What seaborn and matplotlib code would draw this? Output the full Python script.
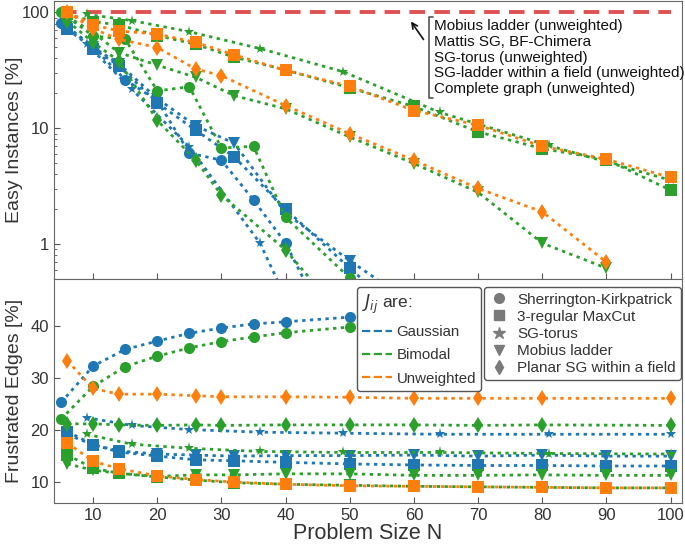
import pandas as pd
import matplotlib
matplotlib.use("Agg")
import matplotlib.pyplot as plt
from matplotlib.lines import Line2D
import seaborn as sns

# ---- data ----
weights = ['Gaussian', 'Bimodal', 'Unweighted']
models = ['Sherrington-Kirkpatrick', '3-regular MaxCut', 'SG-torus', 'Mobius ladder', 'Planar SG within a field']

N_sk = [5, 10, 15, 20, 25, 30, 35, 40, 50]
N_even = [6, 10, 14, 20, 26, 32, 40, 50, 60, 70, 80, 90, 100]
N_torus = [9, 16, 25, 36, 49, 64, 81, 100]
N_planar = [6, 10, 14, 20, 26, 30, 40, 50, 60, 70, 80, 90]
N_planar_fe = [6, 10, 14, 20, 26, 30, 40, 50, 60, 70, 80, 100]

# Easy instances [%]
easy_sk_gauss = [81.5, 50, 26.2, 17.3, 6.1, 5.3, 2.4, 1.02, 0.08]
easy_sk_bimod = [100, 62.6, 58.6, 21.0, 22.8, 6.75, 6.98, 1.7, 0.51]
easy_mc_gauss = [71.5, 48.7, 34.6, 16.5, 9.6, 5.65, 2.0, 0.62, 0.2]
easy_mc_bimod = [97, 83, 78, 63, 53, 41, 31.8, 22.3, 15.4, 9.3, 6.67, 5.37, 2.92]
easy_mc_unw = [100, 78, 69, 65, 55, 43, 31.5, 23.0, 14.2, 10.6, 7.0, 5.4, 3.76]
easy_torus_gauss = [53, 21.8, 6.9, 1.02, 0.03]
easy_torus_bimod = [96, 85, 68, 48.7, 30.7, 13.7, 7.1, 3.56]
easy_mob_gauss = [75, 50, 36, 18, 10.5, 7.4, 1.85, 0.72, 0.3]
easy_mob_bimod = [92, 67, 45, 35, 27.5, 19.1, 14.7, 8.4, 4.96, 2.8, 1.02, 0.62]
easy_pl_bimod = [84, 55, 38, 11.7, 5.3, 2.65, 0.89, 0.2]
easy_pl_unw = [100, 72, 58.6, 49.7, 32.4, 28.4, 15.7, 8.97, 5.29, 3.02, 1.9, 0.70]
easy_all_N = [5, 10, 20, 30, 40, 50, 60, 70, 80, 90, 100]
easy_all = [100, 100, 100, 100, 100, 100, 100, 100, 100, 100, 100]

# Frustrated edges [%]
fe_sk_gauss = [25.3, 32.3, 35.5, 37.1, 38.6, 39.6, 40.4, 40.8, 41.7]
fe_sk_bimod = [22.1, 28.4, 32.2, 34.2, 35.8, 37.0, 37.9, 38.7, 39.8]
fe_mc_gauss = [19.7, 17.2, 15.8, 15.0, 14.3, 14.1, 13.8, 13.5, 13.3, 13.2, 13.2, 13.1, 13.1]
fe_mc_bimod = [15.2, 12.7, 11.7, 11.0, 10.4, 9.9, 9.6, 9.4, 9.2, 9.1, 9.0, 8.9, 8.9]
fe_mc_unw = [17.5, 14.0, 12.6, 11.2, 10.5, 10.0, 9.6, 9.3, 9.2, 9.1, 9.0, 8.9, 8.9]
fe_torus_gauss = [22.4, 20.9, 20.1, 19.6, 19.4, 19.2, 19.2, 19.2]
fe_torus_bimod = [19.2, 17.3, 16.5, 15.9, 15.7, 15.7, 15.5, 15.4]
fe_mob_gauss = [19.1, 17.2, 16.0, 15.4, 15.2, 15.0, 15.1, 15.1, 15.2, 15.0, 15.2, 15.0, 15.0]
fe_mob_bimod = [13.5, 12.3, 11.7, 11.1, 11.4, 11.4, 11.6, 11.6, 11.3, 11.3, 11.4, 11.3, 11.3]
fe_pl_bimod = [21.2, 21.2, 21.0, 20.9, 21.0, 20.9, 21.0, 21.0, 21.0, 20.9, 21.0, 20.9]
fe_pl_unw = [33.3, 28.0, 26.9, 26.9, 26.6, 26.4, 26.4, 26.3, 26.1, 26.1, 26.1, 26.1]

annot_lines = ['Mobius ladder (unweighted)', 'Mattis SG, BF-Chimera', 'SG-torus (unweighted)',
               'SG-ladder within a field (unweighted)', 'Complete graph (unweighted)']


def long_frame(series):
    rows = []
    for w, m, ns, vals in series:
        for n, v in zip(ns, vals):
            rows.append({'N': n, 'value': v, 'weights': w, 'model': m})
    return pd.DataFrame(rows)


easy = long_frame([
    ('Gaussian', models[0], N_sk, easy_sk_gauss),
    ('Bimodal', models[0], N_sk, easy_sk_bimod),
    ('Gaussian', models[1], N_even, easy_mc_gauss),
    ('Bimodal', models[1], N_even, easy_mc_bimod),
    ('Unweighted', models[1], N_even, easy_mc_unw),
    ('Gaussian', models[2], N_torus, easy_torus_gauss),
    ('Bimodal', models[2], N_torus, easy_torus_bimod),
    ('Gaussian', models[3], N_even, easy_mob_gauss),
    ('Bimodal', models[3], N_even, easy_mob_bimod),
    ('Bimodal', models[4], N_planar, easy_pl_bimod),
    ('Unweighted', models[4], N_planar, easy_pl_unw),
])

frus = long_frame([
    ('Gaussian', models[0], N_sk, fe_sk_gauss),
    ('Bimodal', models[0], N_sk, fe_sk_bimod),
    ('Gaussian', models[1], N_even, fe_mc_gauss),
    ('Bimodal', models[1], N_even, fe_mc_bimod),
    ('Unweighted', models[1], N_even, fe_mc_unw),
    ('Gaussian', models[2], N_torus, fe_torus_gauss),
    ('Bimodal', models[2], N_torus, fe_torus_bimod),
    ('Gaussian', models[3], N_even, fe_mob_gauss),
    ('Bimodal', models[3], N_even, fe_mob_bimod),
    ('Bimodal', models[4], N_planar_fe, fe_pl_bimod),
    ('Unweighted', models[4], N_planar_fe, fe_pl_unw),
])

sns.set_style('ticks')
plt.rcParams['font.family'] = ['Liberation Sans', 'DejaVu Sans']
txt = '#333333'
plt.rcParams.update({'text.color': txt, 'axes.labelcolor': txt, 'xtick.color': '#555555',
                     'ytick.color': '#555555', 'xtick.labelcolor': txt, 'ytick.labelcolor': txt,
                     'axes.edgecolor': '#666666', 'xtick.direction': 'in', 'ytick.direction': 'in'})

palette = {'Gaussian': '#1f77b4', 'Bimodal': '#2ca02c', 'Unweighted': '#ff7f0e'}
marks = {models[0]: 'o', models[1]: 's', models[2]: '*', models[3]: 'v', models[4]: 'd'}
dots = {m: (1.2, 1.6) for m in models}

fig = plt.figure(figsize=(6.85, 5.46), dpi=100)
ax1 = fig.add_axes([0.0788, 0.489, 0.917, 0.509])
ax2 = fig.add_axes([0.0788, 0.0788, 0.917, 0.410], sharex=ax1)

line_kw = dict(x='N', y='value', hue='weights', style='model', hue_order=weights, style_order=models,
               palette=palette, markers=marks, dashes=dots, legend=False, linewidth=2,
               markersize=8, markeredgewidth=0)

sns.lineplot(x=easy_all_N, y=easy_all, ax=ax1, color='#d62728', alpha=0.8, linewidth=2.8,
             dashes=(4, 2.4), legend=False)
sns.lineplot(data=easy, ax=ax1, **line_kw)
sns.lineplot(data=frus, ax=ax2, **line_kw)

ax1.set_yscale('log')
ax1.set_ylim(0.5, 125)
ax1.set_yticks([1, 10, 100])
ax1.set_yticklabels(['1', '10', '100'])
ax1.set_xlim(3.9, 101.8)
ax1.set_xticks(range(10, 101, 10))
ax1.tick_params(axis='x', labelbottom=False)
ax1.set_xlabel('')
ax1.set_ylabel('Easy Instances [%]', fontsize=14)

ax2.set_ylim(6, 49)
ax2.set_yticks([10, 20, 30, 40])
ax2.set_xlabel('Problem Size N', fontsize=15.5, labelpad=0)
ax2.set_ylabel('Frustrated Edges [%]', fontsize=14)

for ax in (ax1, ax2):
    ax.tick_params(labelsize=12, length=4)
    ax.tick_params(which='minor', length=2.5)
    ax.yaxis.set_label_coords(-0.05, 0.5)
    for s in ax.spines.values():
        s.set_visible(True)

# annotation for the 100% line
ax1.text(0.6042, 0.797, '\n'.join(annot_lines), transform=ax1.transAxes, fontsize=11,
         va='center', ha='left', linespacing=1.14, color='#111111')
bx, by0, by1, tk = 0.5976, 0.650, 0.9435, 0.0064
ax1.plot([bx + tk, bx, bx, bx + tk], [by1, by1, by0, by0], transform=ax1.transAxes,
         color='#555555', lw=1.2)
ax1.annotate('', xy=(0.5658, 0.935), xytext=(0.5908, 0.8536), xycoords='axes fraction',
             textcoords='axes fraction', arrowprops=dict(arrowstyle='->', color='#111111', lw=1.2))

# legends
w_handles = [Line2D([], [], color=palette[w], ls='--', lw=1.6) for w in weights]
leg1 = ax2.legend(w_handles, weights, title='$J_{ij}$ are:', loc='upper left',
                  bbox_to_anchor=(0.482, 0.963), fontsize=10.8, title_fontsize=12.5,
                  labelspacing=0.62, handlelength=2.0, handletextpad=0.3, borderpad=0.35,
                  borderaxespad=0, fancybox=True, edgecolor='#555555', framealpha=1)
leg1._legend_box.align = 'left'
ax2.add_artist(leg1)
m_handles = [Line2D([], [], color='#7a7a7a', marker=marks[m], ls='', markersize=7 if m != models[2] else 9)
             for m in models]
ax2.legend(m_handles, models, loc='upper left', bbox_to_anchor=(0.685, 0.963), fontsize=11,
           labelspacing=0.2, handlelength=1.2, handletextpad=0.6, borderpad=0.35,
           borderaxespad=0, fancybox=True, edgecolor='#555555', framealpha=1)

fig.savefig('out.png', dpi=100)
